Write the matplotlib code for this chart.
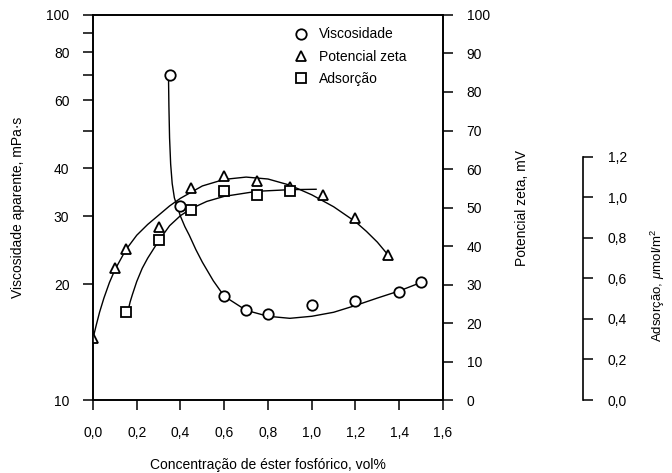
import matplotlib
matplotlib.use("Agg")
import matplotlib.pyplot as plt
from matplotlib.ticker import FixedLocator, NullFormatter
from matplotlib.lines import Line2D

plt.rcParams['font.family'] = ['Liberation Sans', 'DejaVu Sans']
plt.rcParams['mathtext.fontset'] = 'custom'
plt.rcParams['mathtext.rm'] = 'Liberation Sans'
plt.rcParams['mathtext.it'] = 'Liberation Sans:italic'

# ---- dados ----
visc_x = [0.35, 0.40, 0.60, 0.70, 0.80, 1.00, 1.20, 1.40, 1.50]
visc_y = [70, 32, 18.6, 17.1, 16.7, 17.7, 18.1, 19.1, 20.2]
visc_cx = [0.345, 0.347, 0.350, 0.355, 0.362, 0.372, 0.385, 0.40, 0.42, 0.44, 0.47, 0.50, 0.55, 0.60, 0.70, 0.80, 0.90, 1.00, 1.10, 1.20, 1.30, 1.40, 1.50]
visc_cy = [70, 58, 48, 41, 36.5, 33.5, 31.8, 30.0, 28.2, 26.8, 24.6, 22.8, 20.4, 18.6, 17.1, 16.5, 16.3, 16.5, 16.9, 17.6, 18.4, 19.2, 20.2]

zeta_x = [0.0, 0.10, 0.15, 0.30, 0.45, 0.60, 0.75, 0.90, 1.05, 1.20, 1.35]
zeta_y = [16.0, 34.4, 39.2, 44.9, 55.1, 58.1, 57.0, 55.3, 53.2, 47.2, 37.6]
zeta_cx = [0.0, 0.015, 0.03, 0.05, 0.075, 0.10, 0.15, 0.20, 0.25, 0.30, 0.35, 0.40, 0.50, 0.60, 0.70, 0.80, 0.90, 1.00, 1.10, 1.20, 1.25, 1.30, 1.35]
zeta_cy = [16.0, 19.5, 22.8, 26.5, 30.5, 33.8, 39.0, 42.8, 45.6, 48.0, 50.4, 52.4, 55.6, 57.3, 57.9, 57.4, 55.8, 53.3, 50.2, 46.3, 43.8, 41.0, 37.6]

ads_x = [0.15, 0.30, 0.45, 0.60, 0.75, 0.90]
ads_y = [0.435, 0.788, 0.936, 1.031, 1.013, 1.031]
ads_cx = [0.16, 0.17, 0.18, 0.20, 0.225, 0.25, 0.30, 0.35, 0.40, 0.45, 0.52, 0.60, 0.75, 0.90, 1.02]
ads_cy = [0.44, 0.485, 0.52, 0.585, 0.65, 0.70, 0.785, 0.86, 0.91, 0.945, 0.98, 1.005, 1.03, 1.038, 1.04]

x_ticks = [0.0, 0.2, 0.4, 0.6, 0.8, 1.0, 1.2, 1.4, 1.6]
x_labels = ['0,0', '0,2', '0,4', '0,6', '0,8', '1,0', '1,2', '1,4', '1,6']
visc_ticks = [10, 20, 30, 40, 60, 80, 100]
visc_minor = [50, 70, 90]
zeta_ticks = [0, 10, 20, 30, 40, 50, 60, 70, 80, 90, 100]
ads_ticks = [0.0, 0.2, 0.4, 0.6, 0.8, 1.0, 1.2]
ads_labels = ['0,0', '0,2', '0,4', '0,6', '0,8', '1,0', '1,2']

fig = plt.figure(figsize=(6.72, 4.73), dpi=100)
ax = fig.add_axes([0.1384, 0.1543, 0.5208, 0.814])
ax2 = ax.twinx()
ax3 = ax.twinx()

mk = dict(markersize=7.5, markeredgewidth=1.3, markerfacecolor='white', markeredgecolor='black', linestyle='none')

# viscosidade (eixo esquerdo, log)
ax.plot(visc_cx, visc_cy, color='black', lw=1.0)
ax.plot(visc_x, visc_y, marker='o', **mk)
ax.set_yscale('log')
ax.set_ylim(10, 100)
ax.set_xlim(0, 1.6)
ax.yaxis.set_major_locator(FixedLocator(visc_ticks))
ax.yaxis.set_minor_locator(FixedLocator(visc_minor))
ax.set_yticklabels([str(v) for v in visc_ticks])
ax.yaxis.set_minor_formatter(NullFormatter())
ax.set_xticks(x_ticks)
ax.set_xticklabels(x_labels)
ax.tick_params(axis='both', which='both', direction='out', length=7, width=1.1, labelsize=10, pad=10)
ax.tick_params(axis='x', pad=12)
ax.set_ylabel('Viscosidade aparente, mPa·s', fontsize=10, labelpad=15)
ax.set_xlabel('Concentração de éster fosfórico, vol%', fontsize=10, labelpad=13)

# potencial zeta (eixo direito)
ax2.plot(zeta_cx, zeta_cy, color='black', lw=1.0)
ax2.plot(zeta_x, zeta_y, marker='^', **mk)
ax2.set_ylim(0, 100)
ax2.set_yticks(zeta_ticks)
ax2.tick_params(axis='y', direction='out', length=7, width=1.1, labelsize=10, pad=10)
ax2.set_ylabel('Potencial zeta, mV', fontsize=10, labelpad=18)

# adsorção (terceiro eixo)
ax3.plot(ads_cx, ads_cy, color='black', lw=1.0)
ax3.plot(ads_x, ads_y, marker='s', **mk)
ax3.set_ylim(0, 1.9)
ax3.spines['right'].set_position(('axes', 1.4))
ax3.spines['right'].set_bounds(0, 1.2)
for s in ['left', 'top', 'bottom']:
    ax3.spines[s].set_visible(False)
ax3.set_yticks(ads_ticks)
ax3.set_yticklabels(ads_labels)
ax3.tick_params(axis='y', direction='out', length=7, width=1.1, labelsize=10, pad=11)
fig.text(658 / 672, 1 - 285 / 473, r'Adsorção, $\mathit{\mu}$mol/m$^2$', fontsize=9.5,
         rotation=90, ha='center', va='center')

for a in (ax, ax2, ax3):
    for s in a.spines.values():
        s.set_linewidth(1.2)

handles = [
    Line2D([], [], marker='o', **mk),
    Line2D([], [], marker='^', **mk),
    Line2D([], [], marker='s', **mk),
]
ax.legend(handles, ['Viscosidade', 'Potencial zeta', 'Adsorção'], loc='upper left',
          bbox_to_anchor=(0.535, 1.0), frameon=False, fontsize=10, handlelength=1.2,
          handletextpad=0.7, labelspacing=0.6)

fig.savefig('out.png', dpi=100)
